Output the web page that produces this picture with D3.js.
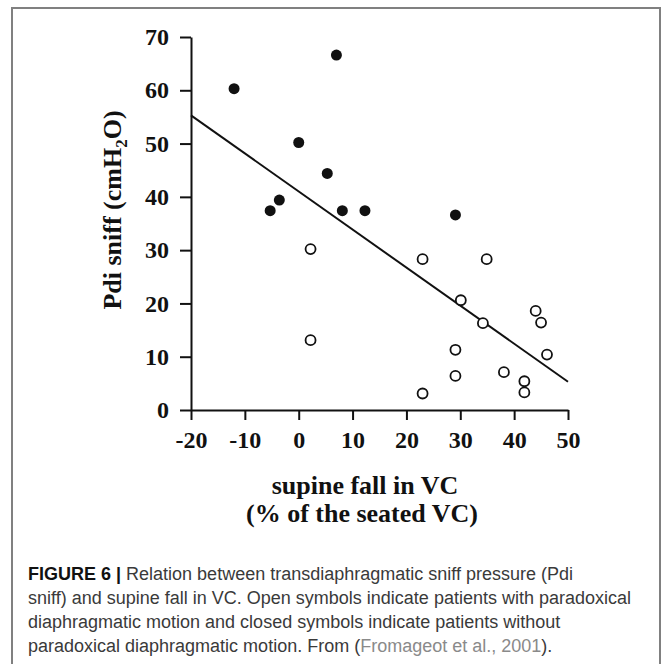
<!DOCTYPE html>
<meta charset="utf-8">
<html>
    <head>
        <style type="text/css">
            body { margin:0; background:#fff; }
            svg { display:block; }
            .chartText { font-family: "Liberation Serif", "Times New Roman", serif; font-weight: bold; fill: #111; }
            .caption { font-family: "Liberation Sans", Arial, sans-serif; font-size: 18px; fill: #3a3a3a; }
        </style>
        <script src="https://d3js.org/d3.v7.min.js"></script>
    </head>
    <body>
        <svg width="662" height="664"></svg>
        <script type="text/javascript">
            // closed symbols (no paradoxical motion)
            var closedX = [-12, 7, 0, 5.3, -5.3, -3.6, 8.1, 12.3, 29.1];
            var closedY = [60.3, 66.6, 50.2, 44.4, 37.4, 39.4, 37.4, 37.4, 36.6];
            // open symbols (paradoxical motion)
            var openX = [2.2, 2.2, 23, 34.9, 30.1, 34.2, 44, 45, 46.1, 29.1, 29.1, 23, 38.1, 41.9, 41.9];
            var openY = [30.2, 13.1, 28.3, 28.3, 20.6, 16.3, 18.6, 16.4, 10.4, 11.3, 6.4, 3.1, 7.1, 5.4, 3.3];
            // regression line end points
            var fitX = [-20, 50];
            var fitY = [55.3, 5.3];

            var xTicks = [-20, -10, 0, 10, 20, 30, 40, 50];
            var yTicks = [0, 10, 20, 30, 40, 50, 60, 70];

            var captionLines = [
                [["FIGURE 6 | ", "bold"], ["Relation between transdiaphragmatic sniff pressure (Pdi", ""]],
                [["sniff) and supine fall in VC. Open symbols indicate patients with paradoxical", ""]],
                [["diaphragmatic motion and closed symbols indicate patients without", ""]],
                [["paradoxical diaphragmatic motion. From (", ""], ["Fromageot et al., 2001", "ref"], [").", ""]]
            ];

            var svg = d3.select("svg");

            // grey frame
            svg.append("rect")
                .attr("x", 12).attr("y", 8)
                .attr("width", 648).attr("height", 670)
                .attr("fill", "none")
                .attr("stroke", "#808080")
                .attr("stroke-width", 2);

            var xScale = d3.scaleLinear().domain([-20, 50]).range([191, 568]);
            var yScale = d3.scaleLinear().domain([0, 70]).range([410, 37]);

            // plain hyphen for negatives, like the figure
            var xAxis = d3.axisBottom(xScale).tickValues(xTicks).tickFormat(d => String(d))
                .tickSizeInner(10).tickSizeOuter(0).tickPadding(11);
            var yAxis = d3.axisLeft(yScale).tickValues(yTicks).tickFormat(d => String(d))
                .tickSizeInner(11).tickSizeOuter(0).tickPadding(11);

            var gx = svg.append("g")
                .attr("class", "chartText")
                .attr("transform", "translate(" + [0, yScale(0)] + ")")
                .call(xAxis);
            var gy = svg.append("g")
                .attr("class", "chartText")
                .attr("transform", "translate(" + [xScale(-20), 0] + ")")
                .call(yAxis);

            [gx, gy].forEach(g => {
                g.selectAll("path, line").attr("stroke", "#111").attr("stroke-width", 2);
                g.selectAll("text")
                    .attr("fill", "#111")
                    .style("font-family", '"Liberation Serif", serif')
                    .style("font-weight", "bold")
                    .style("font-size", "24px");
            });

            // fitted line
            svg.append("line")
                .attr("x1", xScale(fitX[0])).attr("y1", yScale(fitY[0]))
                .attr("x2", xScale(fitX[1])).attr("y2", yScale(fitY[1]))
                .attr("stroke", "#111")
                .attr("stroke-width", 2);

            svg.selectAll("circle.open")
                .data(openX)
                .enter().append("circle")
                .attr("class", "open")
                .attr("cx", d => xScale(d))
                .attr("cy", (d, i) => yScale(openY[i]))
                .attr("r", 5)
                .attr("fill", "#fff")
                .attr("stroke", "#111")
                .attr("stroke-width", 1.8);

            svg.selectAll("circle.closed")
                .data(closedX)
                .enter().append("circle")
                .attr("class", "closed")
                .attr("cx", d => xScale(d))
                .attr("cy", (d, i) => yScale(closedY[i]))
                .attr("r", 5.5)
                .attr("fill", "#111");

            // y title
            var yTitle = svg.append("text")
                .attr("class", "chartText")
                .attr("transform", "translate(121,210) rotate(-90)")
                .attr("text-anchor", "middle")
                .style("font-size", "26px");
            yTitle.append("tspan").text("Pdi sniff (cmH");
            yTitle.append("tspan").attr("dy", 6).style("font-size", "17px").text("2");
            yTitle.append("tspan").attr("dy", -6).text("O)");

            // x title
            svg.append("text")
                .attr("class", "chartText")
                .attr("x", 365).attr("y", 494)
                .attr("text-anchor", "middle")
                .style("font-size", "26px")
                .text("supine fall in VC");
            svg.append("text")
                .attr("class", "chartText")
                .attr("x", 362).attr("y", 522)
                .attr("text-anchor", "middle")
                .style("font-size", "26px")
                .text("(% of the seated VC)");

            // caption
            captionLines.forEach((parts, i) => {
                var t = svg.append("text")
                    .attr("class", "caption")
                    .attr("x", 28)
                    .attr("y", 580 + i * 24);
                parts.forEach(p => {
                    var s = t.append("tspan").text(p[0]);
                    if (p[1] === "bold") s.style("font-weight", "bold").attr("fill", "#111");
                    if (p[1] === "ref") s.attr("fill", "#8a8a8a");
                });
            });
        </script>
    </body>
</html>
